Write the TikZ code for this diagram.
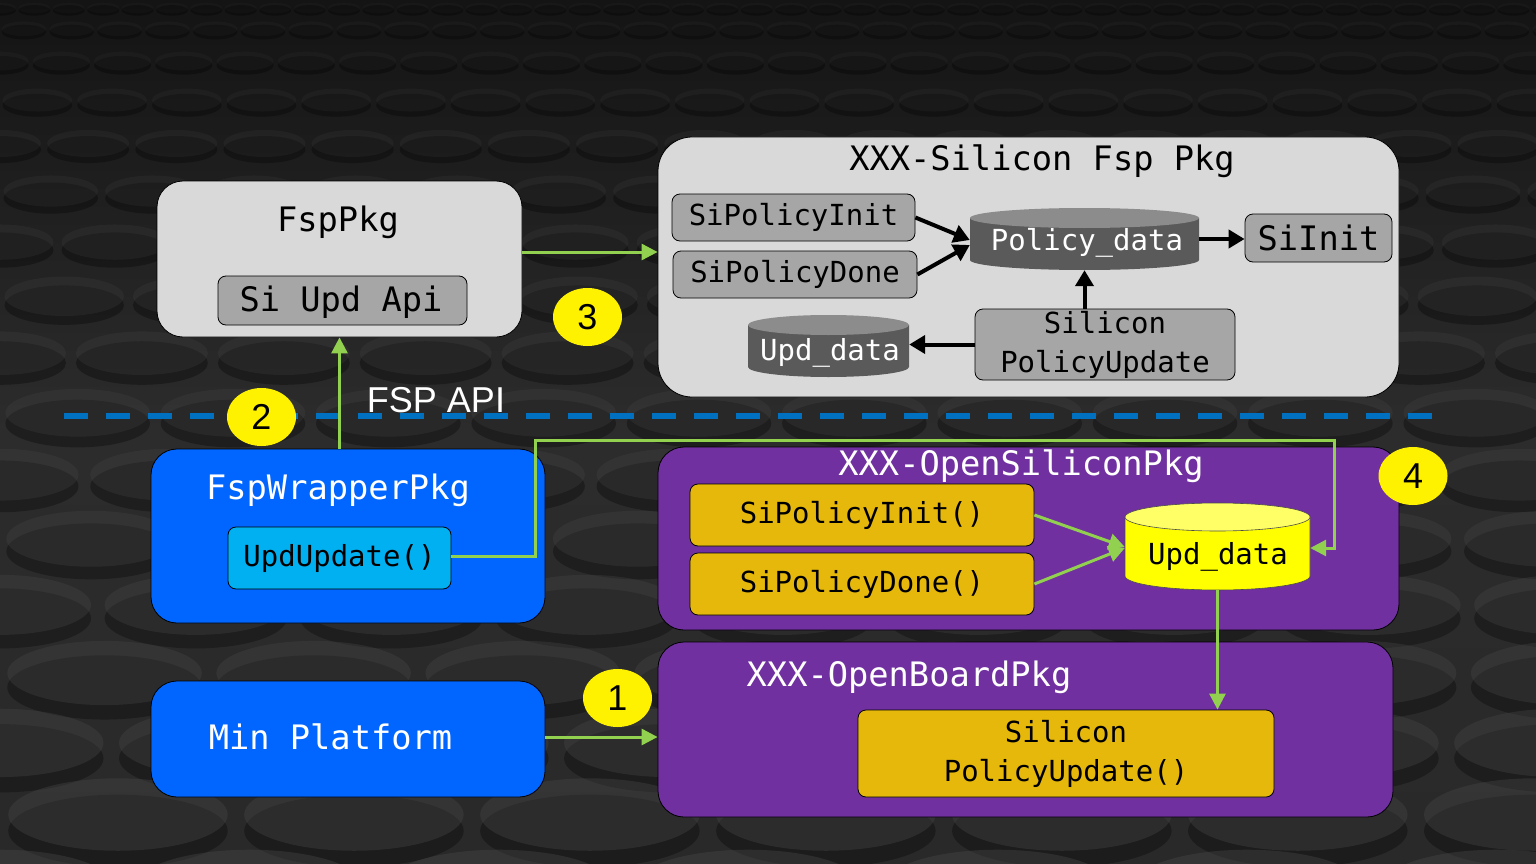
\documentclass[tikz,border=0pt]{standalone}
\usepackage{fontspec}
\newfontfamily\mono{DejaVu Sans Mono}
\newfontfamily\arialf{Liberation Sans}
\usetikzlibrary{shapes.geometric,arrows.meta,calc}
\definecolor{lgray}{HTML}{D9D9D9}
\definecolor{mgray}{HTML}{A6A6A6}
\definecolor{dgray}{HTML}{5A5A5A}
\definecolor{cgray}{HTML}{8C8C8C}
\definecolor{lgreen}{HTML}{92D050}
\definecolor{gold}{HTML}{E6B80C}
\definecolor{purp}{HTML}{7030A0}
\definecolor{bblue}{HTML}{0066FF}
\definecolor{lblue}{HTML}{00B0F0}
\definecolor{dashblue}{HTML}{0070C0}
\definecolor{cylyel}{HTML}{FFFF00}
\definecolor{cyltop}{HTML}{FFFF66}
\definecolor{bgtop}{HTML}{141414}
\definecolor{bgmid}{HTML}{2C2C2C}
\definecolor{bgbot}{HTML}{292929}
\definecolor{disc}{HTML}{484848}
\begin{document}
\begin{tikzpicture}[x=1pt,y=1pt,
  pkgbox/.style={draw=black, line width=0.8pt, rounded corners=26pt, inner sep=0pt},
  innerbox/.style={draw=black, line width=0.8pt, rounded corners=8pt, inner sep=0pt,
     align=center, font=\mono\fontsize{29}{39}\selectfont},
  bigt/.style={inner sep=0pt, font=\mono\fontsize{33.7}{40}\selectfont},
  smt/.style={inner sep=0pt, font=\mono\fontsize{29}{39}\selectfont},
  area/.style={inner sep=0pt, draw=none},
  garrow/.style={draw=lgreen, line width=3pt, -{Triangle[length=16pt,width=16pt]}},
  barrow/.style={draw=black, line width=4pt, -{Triangle[length=16pt,width=18pt]}},
  num/.style={ellipse, fill=yellow, minimum width=69pt, minimum height=58pt, inner sep=0pt,
     font=\arialf\fontsize{36}{36}\selectfont}]
\useasboundingbox (0,0) rectangle (1536,-864);
% background
\fill[top color=bgtop, bottom color=bgbot, middle color=bgmid] (0,0) rectangle (1536,-864);
\begin{scope}
\clip (0,0) rectangle (1536,-864);
\foreach \r in {0,...,16}{
  \pgfmathsetmacro\t{\r/16}
  \pgfmathsetmacro\yy{-(8+880*(\t^1.35))}
  \pgfmathsetmacro\rx{16+100*\t}
  \pgfmathsetmacro\ry{\rx*0.33}
  \pgfmathsetmacro\dx{2.15*\rx}
  \pgfmathsetmacro\off{mod(\r,2)*0.5*\dx}
  \pgfmathsetmacro\op{0.08+0.32*\t}
  \pgfmathtruncatemacro\n{1536/\dx+2}
  \foreach \k in {0,...,\n}{
    \fill[black,opacity=0.3] (\k*\dx-\off, \yy-0.45*\ry) ellipse[x radius=\rx, y radius=\ry];
    \fill[disc,opacity=\op] (\k*\dx-\off, \yy) ellipse[x radius=\rx, y radius=\ry];
  }
}
\end{scope}
% separator
\draw[dashblue, line width=6pt, dash pattern=on 24pt off 18pt] (64,-416) -- (1432,-416);
\node[text=white, font=\arialf\fontsize{36}{36}\selectfont, inner sep=0pt] (fspapi) at (436,-400) {FSP API};

% top-left
\node[pkgbox, fill=lgray, minimum width=365pt, minimum height=156pt] (fsppkg) at (339.5,-259) {};
\node[bigt] (fsppkgt) at (338,-222) {FspPkg};
\node[pkgbox, fill=mgray, rounded corners=8pt, minimum width=249pt, minimum height=49pt] (siupd) at (342.5,-300.5) {};
\node[bigt] (siupdt) at (341,-302) {Si Upd Api};

% top-right
\node[pkgbox, fill=lgray, rounded corners=34pt, minimum width=741pt, minimum height=260pt] (xsfsp) at (1028.5,-267) {};
\node[bigt] (xsfspt) at (1042,-161) {XXX-Silicon Fsp Pkg};
\node[innerbox, fill=mgray, minimum width=243pt, minimum height=47pt] (sipi) at (793.5,-217.5) {SiPolicyInit};
\node[innerbox, fill=mgray, minimum width=244pt, minimum height=47pt] (sipd) at (795,-274.5) {SiPolicyDone};
\node[innerbox, fill=mgray, minimum width=147pt, minimum height=48pt, font=\mono\fontsize{33.7}{40}\selectfont] (siinit) at (1318.5,-238) {SiInit};
\node[innerbox, fill=mgray, minimum width=260pt, minimum height=71pt] (spu) at (1105,-344.5) {Silicon\\PolicyUpdate};
% Policy_data cylinder
\path[fill=dgray] (970,-218) -- (970,-260) arc[start angle=180, end angle=360, x radius=114.5, y radius=10] -- (1199,-218) -- cycle;
\path[fill=cgray] (1084.5,-218) ellipse[x radius=114.5, y radius=10];
\node[area, minimum width=229pt, minimum height=62pt] (pd) at (1084.5,-239) {};
\node[smt, text=white] (pdt) at (1087,-243) {Policy\_data};
% Upd_data gray cylinder
\path[fill=dgray] (748,-325) -- (748,-367) arc[start angle=180, end angle=360, x radius=80.5, y radius=10] -- (909,-325) -- cycle;
\path[fill=cgray] (828.5,-325) ellipse[x radius=80.5, y radius=10];
\node[area, minimum width=161pt, minimum height=62pt] (upd) at (828.5,-346) {};
\node[smt, text=white] (updt) at (830,-353) {Upd\_data};

% bottom-left
\node[pkgbox, fill=bblue, minimum width=394pt, minimum height=174pt] (fwp) at (348,-536) {};
\node[bigt, text=white] (fwpt) at (338,-490) {FspWrapperPkg};
\node[innerbox, fill=lblue, minimum width=223pt, minimum height=62pt] (updupd) at (339.5,-558) {UpdUpdate()};
\node[pkgbox, fill=bblue, minimum width=394pt, minimum height=116pt] (minp) at (348,-739) {};
\node[bigt, text=white] (minpt) at (330.5,-737) {Min Platform};

% bottom-right
\node[pkgbox, fill=purp, minimum width=741pt, minimum height=183pt] (osp) at (1028.5,-538.5) {};
\node[bigt, text=white] (ospt) at (1021,-466) {XXX-OpenSiliconPkg};
\node[innerbox, fill=gold, minimum width=344pt, minimum height=62pt] (spi2) at (862,-515) {SiPolicyInit()};
\node[innerbox, fill=gold, minimum width=344pt, minimum height=62pt] (spd2) at (862,-584) {SiPolicyDone()};
% yellow cylinder
\path[fill=cylyel, draw=black!70, line width=0.6pt] (1125,-517) -- (1125,-576) arc[start angle=180, end angle=360, x radius=92.5, y radius=14] -- (1310,-517);
\path[fill=cyltop, draw=black!70, line width=0.6pt] (1217.5,-517) ellipse[x radius=92.5, y radius=14];
\node[area, minimum width=185pt, minimum height=87pt] (updy) at (1217.5,-546.5) {};
\node[smt] (updyt) at (1218,-557) {Upd\_data};

\node[pkgbox, fill=purp, minimum width=735pt, minimum height=175pt] (obp) at (1025.5,-729.5) {};
\node[bigt, text=white] (obpt) at (909,-677) {XXX-OpenBoardPkg};
\node[innerbox, fill=gold, minimum width=416pt, minimum height=87pt] (spu2) at (1066,-753.5) {Silicon\\PolicyUpdate()};

% number markers
\node[num] (n1) at (617.5,-698) {1};
\node[num] (n2) at (261.5,-417) {2};
\node[num] (n3) at (587.5,-317) {3};
\node[num] (n4) at (1413,-476) {4};

% black arrows
\draw[barrow] (sipi.east) -- ([yshift=-1pt]pd.west);
\draw[barrow] (sipd.east) -- ([yshift=-6pt]pd.west);
\draw[barrow] (pd.east) -- (pd.east -| siinit.west);
\draw[barrow] (spu.north -| pd.south) -- (pd.south);
\draw[barrow] (spu.west) -- (spu.west -| upd.east);

% green arrows
\draw[garrow] ([yshift=7pt]fsppkg.east) -- ([yshift=7pt]fsppkg.east -| xsfsp.west);
\draw[garrow] (fsppkg.south |- fwp.north) -- (fsppkg.south);
\draw[garrow] ([yshift=2pt]minp.east) -- ([yshift=2pt]minp.east -| obp.west);
\coordinate (tp) at (1334,-440);
\draw[garrow] ([yshift=2pt]updupd.east) -- ++(84,0) |- (tp) |- ([yshift=-1.5pt]updy.east);
\draw[garrow] (spi2.east) -- ([yshift=-0.5pt]updy.west);
\draw[garrow] (spd2.east) -- ([yshift=-1.5pt]updy.west);
\draw[garrow] (updy.south) -- (updy.south |- spu2.north);
\end{tikzpicture}
\end{document}
